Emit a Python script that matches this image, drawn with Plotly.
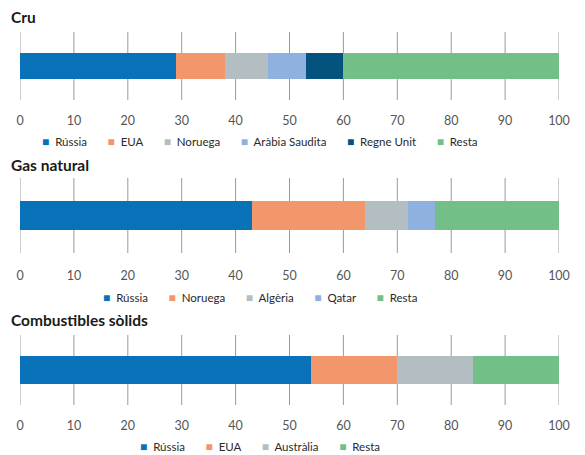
import plotly.graph_objects as go

ticks = [0, 10, 20, 30, 40, 50, 60, 70, 80, 90, 100]

titles = ["Cru", "Gas natural", "Combustibles sòlids"]

cru_names = ["Rússia", "EUA", "Noruega", "Aràbia Saudita", "Regne Unit", "Resta"]
cru_values = [29, 9, 8, 7, 7, 40]

gas_names = ["Rússia", "Noruega", "Algèria", "Qatar", "Resta"]
gas_values = [43, 21, 8, 5, 23]

sol_names = ["Rússia", "EUA", "Austràlia", "Resta"]
sol_values = [54, 16, 14, 16]

C_RUS = "#0971b8"
C_ORA = "#f2976c"
C_GRY = "#b2bec2"
C_LBL = "#8fb1e0"
C_NAV = "#04527e"
C_GRN = "#72bf87"

cru_colors = [C_RUS, C_ORA, C_GRY, C_LBL, C_NAV, C_GRN]
gas_colors = [C_RUS, C_ORA, C_GRY, C_LBL, C_GRN]
sol_colors = [C_RUS, C_ORA, C_GRY, C_GRN]

panels = [
    (cru_names, cru_values, cru_colors),
    (gas_names, gas_values, gas_colors),
    (sol_names, sol_values, sol_colors),
]

W, H = 585, 455
pix = [(32, 100), (178, 253), (335, 405)]
title_y = [17, 165, 320]
legend_y = [141, 297, 446]
ticklens = [9, 11, 9]

fig = go.Figure()
FONT = "Lato"
GAP = "&nbsp;" * 7

for i, (names, values, colors) in enumerate(panels):
    k = "" if i == 0 else str(i + 1)
    xa = "x" + k
    ya = "y" + k
    for n, v, c in zip(names, values, colors):
        fig.add_trace(go.Bar(
            x=[v], y=[0], orientation="h", name=n,
            marker=dict(color=c, line=dict(width=0)),
            width=0.78, showlegend=False, xaxis=xa, yaxis=ya, hoverinfo="skip"))

    top, bot = pix[i]
    dom = [(H - bot) / H, (H - top) / H]
    fig.layout["xaxis" + k] = dict(
        domain=[20 / W, 559 / W], range=[0, 100], tickmode="array", tickvals=ticks,
        showgrid=False, zeroline=False, showline=False,
        ticks="outside", ticklen=ticklens[i], tickcolor="rgba(255,255,255,0)",
        tickfont=dict(family=FONT, size=12.5, color="#555555"),
        anchor=ya, fixedrange=True, automargin=False)
    fig.layout["yaxis" + k] = dict(
        domain=dom, range=[-1, 1], showticklabels=False, showgrid=False,
        zeroline=False, anchor=xa, fixedrange=True, automargin=False)
    for t in ticks:
        fig.add_shape(type="line", xref=xa, yref=ya + " domain",
                      x0=t, x1=t, y0=0, y1=1, layer="below",
                      line=dict(color="#9a9a9a", width=1))

    items = [
        '<span style="color:%s;font-size:12px">■</span>&nbsp;&nbsp;%s' % (c, n)
        for n, c in zip(names, colors)
    ]
    fig.add_annotation(
        text=GAP.join(items), xref="paper", yref="paper",
        x=260 / W, y=(H - legend_y[i]) / H, xanchor="center", yanchor="middle",
        showarrow=False, font=dict(family=FONT, size=11.5, color="#2a2a2a"))

    fig.add_annotation(
        text="<b>" + titles[i] + "</b>", xref="paper", yref="paper",
        x=9 / W, y=(H - title_y[i]) / H, xanchor="left", yanchor="middle",
        showarrow=False, font=dict(family=FONT, size=15.5, color="#1a1a1a"))

fig.update_layout(
    width=W, height=H, margin=dict(l=0, r=0, t=0, b=0, autoexpand=False),
    paper_bgcolor="white", plot_bgcolor="white", barmode="stack",
    showlegend=False, font=dict(family=FONT), template="none")

fig.write_html("out.html")
